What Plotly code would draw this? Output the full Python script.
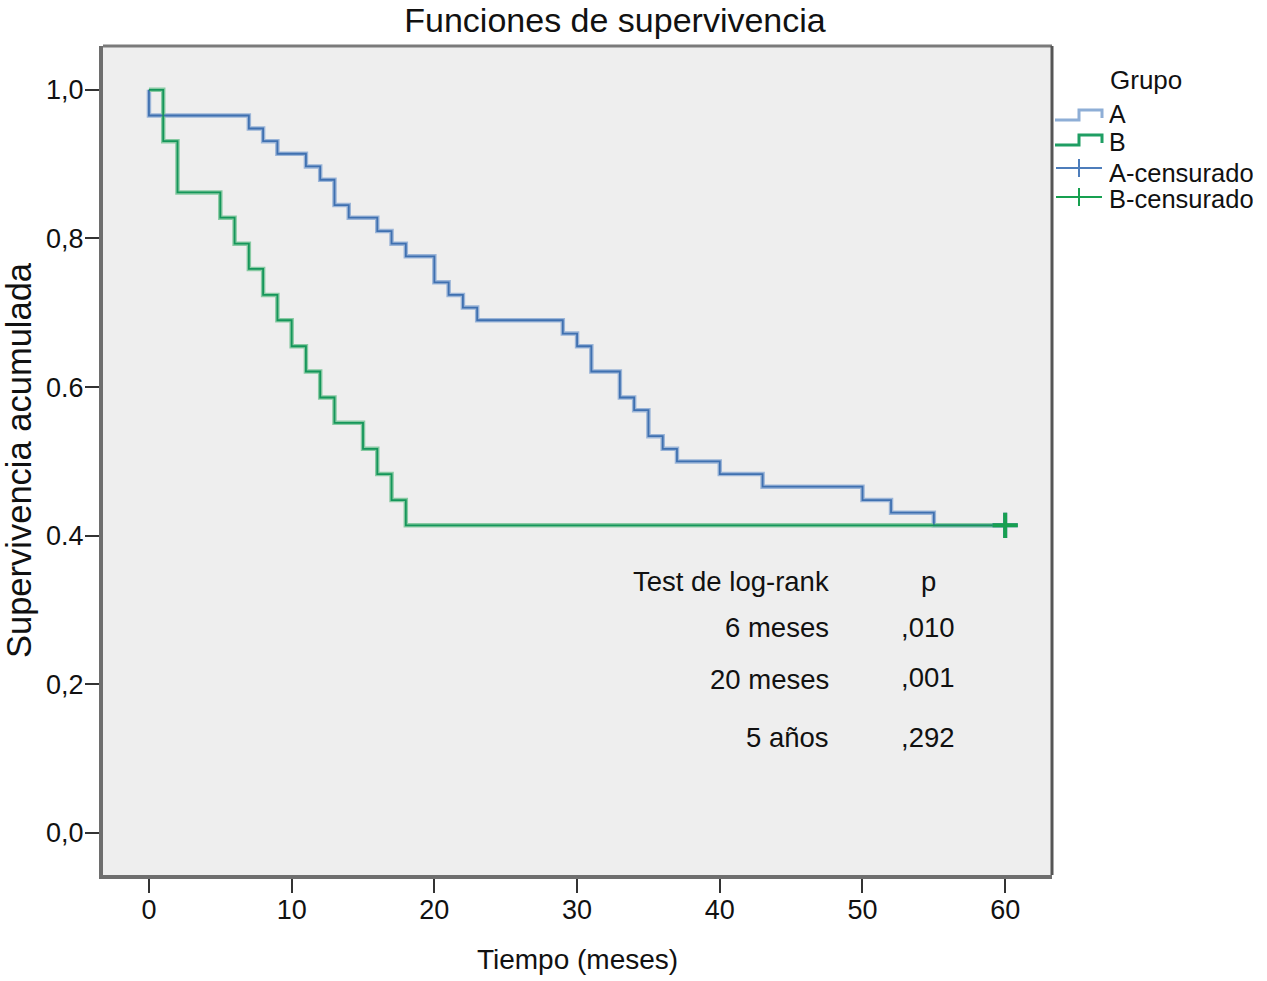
import plotly.graph_objects as go

# ---- data ----
time_a = [0, 0, 7, 8, 9, 11, 12, 13, 14, 16, 17, 18, 20, 21, 22, 23, 29, 30, 31,
          33, 34, 35, 36, 37, 40, 43, 50, 52, 55, 60]
surv_a = [1.0, 0.9655, 0.948, 0.931, 0.914, 0.897, 0.879, 0.845, 0.828, 0.810,
          0.793, 0.776, 0.741, 0.724, 0.707, 0.690, 0.672, 0.655, 0.621, 0.586,
          0.569, 0.534, 0.517, 0.500, 0.483, 0.466, 0.448, 0.431, 0.414, 0.414]

time_b = [0, 1, 2, 5, 6, 7, 8, 9, 10, 11, 12, 13, 15, 16, 17, 18, 60]
surv_b = [1.0, 0.931, 0.862, 0.828, 0.793, 0.759, 0.724, 0.690, 0.655, 0.621,
          0.586, 0.552, 0.517, 0.483, 0.448, 0.414, 0.414]

cens_a_time = [60]
cens_a_surv = [0.414]
cens_b_time = [60]
cens_b_surv = [0.414]

y_tick_vals = [0.0, 0.2, 0.4, 0.6, 0.8, 1.0]
y_tick_text = ["0,0", "0,2", "0.4", "0.6", "0,8", "1,0"]
x_tick_vals = [0, 10, 20, 30, 40, 50, 60]

legend_title = "Grupo"
legend_names = ["A", "B", "A-censurado", "B-censurado"]

table_labels = ["Test de log-rank", "6 meses", "20 meses", "5 años"]
table_pvals = ["p", ",010", ",001", ",292"]
table_label_y = [0.339, 0.277, 0.207, 0.129]
table_pval_y = [0.339, 0.277, 0.209, 0.129]

FONT = "Liberation Sans, Arial, Helvetica, sans-serif"
TXT = "#111111"

A_DARK, A_LIGHT = "#3f70b0", "#9bb5d8"
B_DARK, B_LIGHT = "#14965a", "#88caa3"
A_CENS, B_CENS = "#4d7dbb", "#17a050"

W, H = 1267, 981
L, R, T, B = 103, 215, 46, 106
PW, PH = W - L - R, H - T - B


def px(xp):
    return (xp - L) / PW


def py(yp):
    return (H - B - yp) / PH


fig = go.Figure()

# light underlays
fig.add_trace(go.Scatter(x=time_a, y=surv_a, mode="lines", line_shape="hv",
                         line=dict(color=A_LIGHT, width=4.5), showlegend=False,
                         hoverinfo="skip"))
fig.add_trace(go.Scatter(x=time_b, y=surv_b, mode="lines", line_shape="hv",
                         line=dict(color=B_LIGHT, width=4.5), showlegend=False,
                         hoverinfo="skip"))
# main lines
fig.add_trace(go.Scatter(x=time_a, y=surv_a, mode="lines", line_shape="hv",
                         line=dict(color=A_DARK, width=1.8), name=legend_names[0],
                         showlegend=False))
fig.add_trace(go.Scatter(x=time_b, y=surv_b, mode="lines", line_shape="hv",
                         line=dict(color=B_DARK, width=1.8), name=legend_names[1],
                         showlegend=False))
# censored marks
fig.add_trace(go.Scatter(x=cens_a_time, y=cens_a_surv, mode="markers",
                         marker=dict(symbol="cross-thin", size=18,
                                     line=dict(color=A_CENS, width=4)),
                         name=legend_names[2], showlegend=False))
fig.add_trace(go.Scatter(x=cens_b_time, y=cens_b_surv, mode="markers",
                         marker=dict(symbol="cross-thin", size=18,
                                     line=dict(color=B_CENS, width=4)),
                         name=legend_names[3], showlegend=False))

annotations = []
for txt, yy in zip(table_labels, table_label_y):
    annotations.append(dict(x=47.8, y=yy, xref="x", yref="y", text=txt,
                            showarrow=False, xanchor="right", yanchor="middle",
                            font=dict(family=FONT, size=27.5, color=TXT)))
for txt, yy in zip(table_pvals, table_pval_y):
    annotations.append(dict(x=54.6, y=yy, xref="x", yref="y", text=txt,
                            showarrow=False, xanchor="center", yanchor="middle",
                            font=dict(family=FONT, size=27.5, color=TXT)))

# manual legend (text)
leg_text_y = [114, 142, 173, 199]
leg_font = [25, 25, 25.5, 25.5]
annotations.append(dict(x=px(1108), y=py(80), xref="paper", yref="paper",
                        text=legend_title, showarrow=False, xanchor="left",
                        yanchor="middle", font=dict(family=FONT, size=26, color=TXT)))
for name, yy, fs in zip(legend_names, leg_text_y, leg_font):
    annotations.append(dict(x=px(1108), y=py(yy), xref="paper", yref="paper",
                            text=name, showarrow=False, xanchor="left",
                            yanchor="middle", height=20, borderpad=0,
                            font=dict(family=FONT, size=fs, color=TXT)))

shapes = []
# legend symbols: step lines
for yy, col in [(116, "#8eaed6"), (141, "#1f9e63")]:
    y_lo, y_hi, y_end = py(yy + 4), py(yy - 6), py(yy + 2)
    path = (f"M {px(1055)},{y_lo} L {px(1079)},{y_lo} L {px(1079)},{y_hi} "
            f"L {px(1102)},{y_hi} L {px(1102)},{y_end}")
    shapes.append(dict(type="path", xref="paper", yref="paper", path=path,
                       line=dict(color=col, width=3)))
# legend symbols: censored
for yy, col in [(168, A_CENS), (197, B_CENS)]:
    shapes.append(dict(type="line", xref="paper", yref="paper",
                       x0=px(1056), x1=px(1102), y0=py(yy), y1=py(yy),
                       line=dict(color=col, width=2)))
    shapes.append(dict(type="line", xref="paper", yref="paper",
                       x0=px(1079), x1=px(1079), y0=py(yy - 9), y1=py(yy + 9),
                       line=dict(color=col, width=2)))
# thin top / right frame
shapes.append(dict(type="line", xref="paper", yref="paper", x0=0, x1=1, y0=1, y1=1,
                   line=dict(color="#7a7a7a", width=3)))
shapes.append(dict(type="line", xref="paper", yref="paper", x0=1, x1=1, y0=0, y1=1,
                   line=dict(color="#555555", width=3)))

fig.update_layout(
    width=W, height=H,
    margin=dict(l=L, r=R, t=T, b=B),
    paper_bgcolor="white",
    plot_bgcolor="#eeeeee",
    title=dict(text="Funciones de supervivencia", x=615 / W, xref="container",
               xanchor="center", y=1 - 20 / H, yanchor="middle",
               font=dict(family=FONT, size=34, color=TXT)),
    xaxis=dict(range=[-3.22, 63.28], tickvals=x_tick_vals, showgrid=False,
               zeroline=False, showline=True, linecolor="#6e6e6e", linewidth=4,
               ticks="outside", ticklen=14, tickwidth=2, tickcolor="#333",
               ticklabelstandoff=-6,
               tickfont=dict(family=FONT, size=27, color=TXT),
               title=dict(text="Tiempo (meses)", standoff=26,
                          font=dict(family=FONT, size=28, color=TXT)),
               automargin=False),
    yaxis=dict(range=[-0.0565, 1.059], tickvals=y_tick_vals, ticktext=y_tick_text,
               showgrid=False, zeroline=False, showline=True, linecolor="#6e6e6e",
               linewidth=4, ticks="outside", ticklen=14, tickwidth=2,
               tickcolor="#333", ticklabelstandoff=-4,
               tickfont=dict(family=FONT, size=27, color=TXT),
               title=dict(text="Supervivencia acumulada", standoff=12,
                          font=dict(family=FONT, size=34.5, color=TXT)),
               automargin=False),
    annotations=annotations,
    shapes=shapes,
    showlegend=False,
)

fig.write_html("out.html", config={"displayModeBar": False},
               post_script="document.body.style.margin='0px';")
